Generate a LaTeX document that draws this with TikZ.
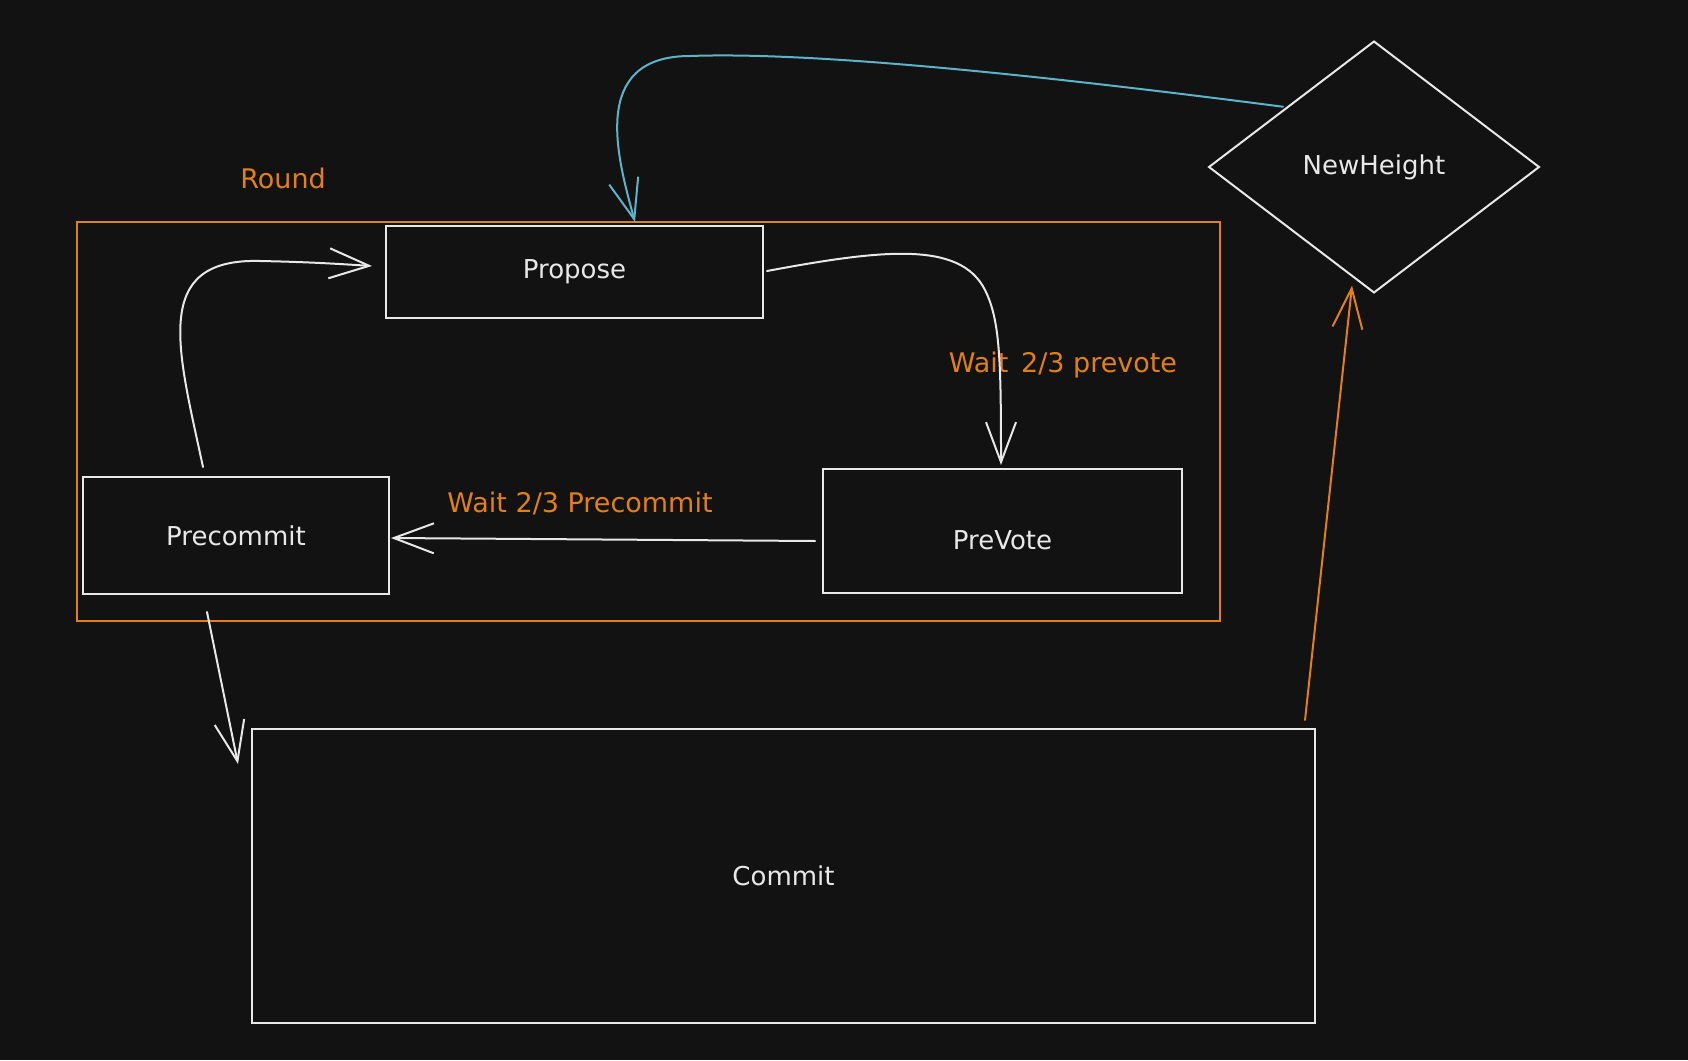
\documentclass[tikz,border=0pt]{standalone}
\usepackage{fontspec}
\setmainfont{DejaVu Sans}
\usetikzlibrary{arrows.meta,shapes.geometric}
\definecolor{bg}{RGB}{18,18,18}
\definecolor{ink}{RGB}{232,232,232}
\definecolor{amber}{RGB}{226,128,22}
\definecolor{tealish}{RGB}{92,180,200}
\tikzset{
  box/.style={draw=ink, line width=2pt, fill=bg, inner sep=0pt, outer sep=0pt,
    text=ink, font=\fontsize{26}{30}\selectfont},
  lbl/.style={text=amber, font=\fontsize{27}{31}\selectfont, inner sep=0pt},
  tip/.style={-{Straight Barb[length=40pt,width=30pt]}},
  conn/.style={draw=ink, line width=2pt, line cap=round, line join=round, tip},
  aconn/.style={conn, draw=amber},
  tconn/.style={conn, draw=tealish},
}
\begin{document}
\begin{tikzpicture}[x=1pt,y=-1pt]
\fill[bg] (0,0) rectangle (1688,1060);
\useasboundingbox (0,0) rectangle (1688,1060);

% Round frame
\node[draw=amber, line width=2pt, minimum width=1143pt, minimum height=399pt,
      inner sep=0pt, outer sep=0pt] (round) at (648.5,421.5) {};
\node[lbl] (roundlbl) at (283,178) {Round};

% states
\node[box, minimum width=377pt, minimum height=92pt]  (propose)   at (574.5,272)  {Propose};
\node[box, minimum width=359pt, minimum height=124pt] (prevote)   at (1002.5,531) {\raisebox{-9pt}[\height][\depth]{PreVote}};
\node[box, minimum width=306pt, minimum height=117pt] (precommit) at (236,535.5)  {Precommit};
\node[box, minimum width=1063pt, minimum height=294pt] (commit)   at (783.5,876)  {Commit};
\node[box, diamond, minimum width=330pt, minimum height=251pt] (newheight) at (1374,167) {NewHeight};

% connector labels
\node[lbl] (l1) at (1063,365) {Wait\hspace{4pt} 2/3 prevote};
\node[lbl] (l2) at (580,503) {Wait 2/3 Precommit};

% connectors
\draw[conn] ([xshift=-33pt,yshift=10pt]precommit.north)
  .. controls (178,350) and (150,258) .. (260,261)
  .. controls (310,262) and (340,264) .. ([xshift=-14pt,yshift=6pt]propose.west);

\draw[conn] ([xshift=4pt,yshift=1pt]propose.east)
  .. controls (880,250) and (960,240) .. (985,290)
  .. controls (1000,320) and (1001,360) .. ([xshift=-1.5pt,yshift=4pt]prevote.north);

\draw[conn] ([xshift=-8pt,yshift=-10pt]prevote.west)
  -- ([xshift=2pt,yshift=-2.5pt]precommit.east);

\draw[conn] ([xshift=-29pt,yshift=-18pt]precommit.south)
  -- ([xshift=-14pt,yshift=-35pt]commit.north west);

\draw[aconn] ([xshift=-10pt,yshift=9pt]commit.north east)
  -- ([xshift=-22pt,yshift=7pt]newheight.south);

\draw[tconn] ([xshift=-8.5pt,yshift=-2.5pt]newheight.north west)
  .. controls (1000,70) and (800,52) .. (690,56)
  .. controls (588,56) and (618,160) .. ([xshift=60.5pt,yshift=4pt]propose.north);
\end{tikzpicture}
\end{document}
